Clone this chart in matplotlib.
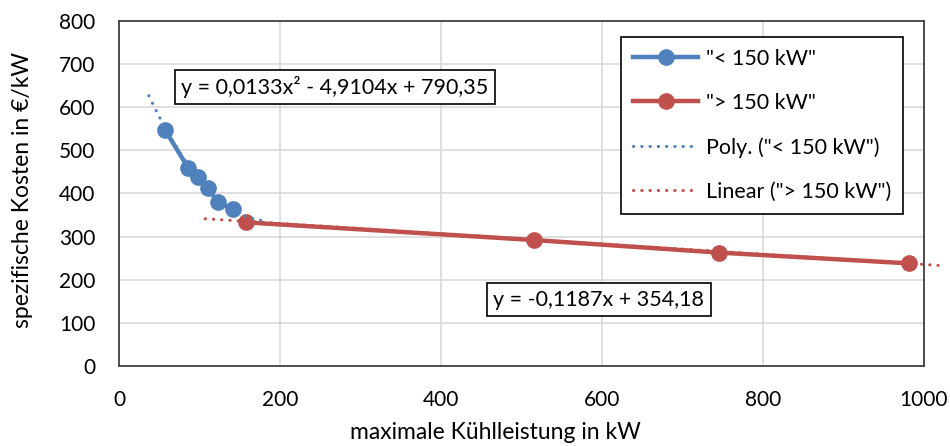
import numpy as np
import matplotlib
matplotlib.use('Agg')
import matplotlib.pyplot as plt
from matplotlib.lines import Line2D

plt.rcParams['font.family'] = ['Lato', 'DejaVu Sans']

# Daten
x_small = [57, 86, 98, 110, 123, 141]
y_small = [548, 459, 439, 412, 381, 363]
x_large = [158, 516, 745, 981]
y_large = [333, 292, 263, 238]

# Trendlinien-Koeffizienten (aus den Beschriftungen)
poly_coef = [0.0133, -4.9104, 790.35]
lin_coef = [-0.1187, 354.18]
poly_range = (37, 183)
lin_range = (107, 1025)

label_small = '"< 150 kW"'
label_large = '"> 150 kW"'
label_poly = 'Poly. ("< 150 kW")'
label_lin = 'Linear ("> 150 kW")'
eq_poly = 'y = 0,0133x² - 4,9104x + 790,35'
eq_lin = 'y = -0,1187x + 354,18'

BLUE = '#4F81BD'
RED = '#C0504D'
FS_TICK = 15
FS_LABEL = 16.5
FS_BIG = 15.5

fig = plt.figure(figsize=(9.5, 4.46), dpi=100)
ax = fig.add_axes([0.1253, 0.1794, 0.9726 - 0.1253, 0.9529 - 0.1794])

dot_style = (0, (0.1, 2.6))

# Trendlinien
xp = np.linspace(*poly_range, 100)
ax.plot(xp, np.polyval(poly_coef, xp), color=BLUE, lw=2.2, linestyle=dot_style,
        dash_capstyle='round', zorder=4)
xl = np.linspace(*lin_range, 100)
ax.plot(xl, np.polyval(lin_coef, xl), color=RED, lw=2.2, linestyle=dot_style,
        dash_capstyle='round', zorder=2, clip_on=False)

# Datenreihen
ax.plot(x_small, y_small, color=BLUE, lw=3.2, marker='o', ms=11, zorder=3)
ax.plot(x_large, y_large, color=RED, lw=3.2, marker='o', ms=11, zorder=3)

ax.set_xlim(0, 1000)
ax.set_ylim(0, 800)
ax.set_xticks(range(0, 1001, 200))
ax.set_yticks(range(0, 801, 100))
ax.grid(True, color='#d9d9d9', lw=1.2)
ax.set_axisbelow(True)
ax.tick_params(length=0, labelsize=FS_TICK)
ax.tick_params(axis='x', pad=17)
ax.tick_params(axis='y', pad=17)
for s in ax.spines.values():
    s.set_color('#404040')
    s.set_linewidth(1.3)

ax.set_xlabel('maximale Kühlleistung in kW', fontsize=FS_LABEL, va='baseline')
ax.xaxis.set_label_coords(0.467, -0.2116)
ax.set_ylabel('spezifische Kosten in €/kW', fontsize=FS_LABEL, va='center')
ax.yaxis.set_label_coords(-0.12, 0.509)

box = dict(boxstyle='square,pad=0.3', fc='white', ec='black', lw=1.2)
ax.text(268, 647, eq_poly, fontsize=FS_BIG, ha='center', va='center', bbox=box, zorder=6)
ax.text(596, 154, eq_lin, fontsize=FS_BIG, ha='center', va='center', bbox=box, zorder=6)

handles = [
    Line2D([], [], color=BLUE, lw=3.2, marker='o', ms=11),
    Line2D([], [], color=RED, lw=3.2, marker='o', ms=11),
    Line2D([], [], color=BLUE, lw=2.2, linestyle=dot_style, dash_capstyle='round'),
    Line2D([], [], color=RED, lw=2.2, linestyle=dot_style, dash_capstyle='round'),
]
leg = ax.legend(handles, [label_small, label_large, label_poly, label_lin],
                loc='upper left', bbox_to_anchor=(0.6235, 0.9535), fontsize=FS_BIG,
                frameon=True, fancybox=False, edgecolor='black', framealpha=1,
                handlelength=3.05, labelspacing=1.12, borderpad=0.55,
                handletextpad=0.37, borderaxespad=0)
leg.get_frame().set_linewidth(1.2)
leg.set_zorder(7)

plt.savefig('out.png', dpi=100)
